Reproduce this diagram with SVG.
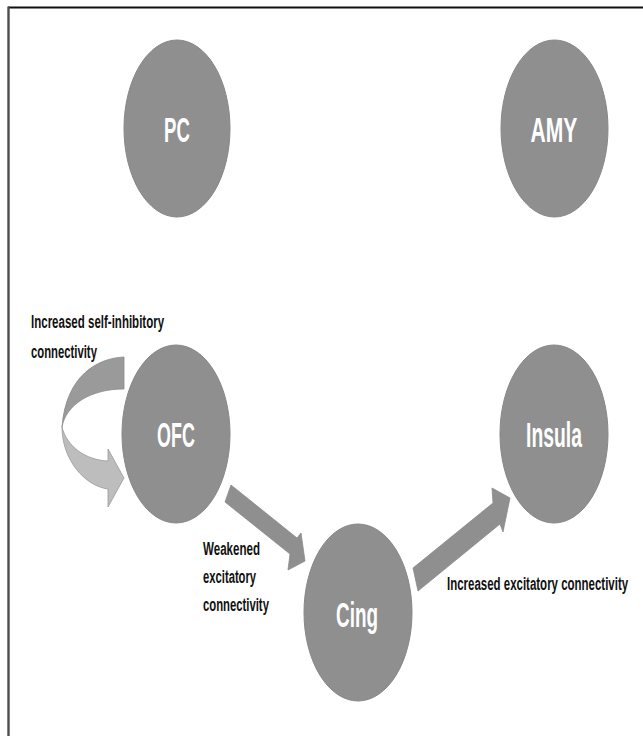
<svg xmlns="http://www.w3.org/2000/svg" width="643" height="736" viewBox="0 0 643 736">
<style>
.node ellipse{fill:#8f8f8f;stroke:#878787;stroke-width:1}
.node text{font-family:"Liberation Sans",Arial,sans-serif;font-weight:bold;font-size:36px;fill:#ffffff;text-anchor:middle}
.lbl{font-family:"Liberation Sans",Arial,sans-serif;font-weight:bold;font-size:18px;fill:#111111}
.arrow{fill:#8f8f8f;stroke:#8a8a8a;stroke-width:0.8}
</style>
<rect width="643" height="736" fill="#ffffff"/>
<g id="frame">
<line x1="8" y1="7.5" x2="643" y2="7.5" stroke="#111" stroke-width="1.8"/>
<line x1="8.5" y1="6.6" x2="8.5" y2="736" stroke="#4d4d4d" stroke-width="2.4"/>
</g>
<g id="connectors">
<g id="self-loop">
<path d="M124,357 C98,358 66,375 62,427 C66,405 90,389 124,389 Z" fill="#9a9a9a" stroke="#8c8c8c" stroke-width="0.8"/>
<path d="M62,427 C62,460 85,486 108,489 L108,507 L124,478 L108,449 L108,461 C86,460 67,447 62,427 Z" fill="#bdbdbd" stroke="#9a9a9a" stroke-width="0.8"/>
</g>
<polygon id="ofc-cing" class="arrow" points="231,485 297,538 301,533 305,561 288,570 290,554 225,502"/>
<polygon id="cing-insula" class="arrow" points="413,568 493,503 492,488 510,498 503,532 500,524 418,591"/>
</g>
<g id="PC" class="node"><ellipse cx="177" cy="128.5" rx="53" ry="88.5"/><text transform="translate(177,142) scale(0.6,1)" textLength="43" lengthAdjust="spacingAndGlyphs">PC</text></g>
<g id="AMY" class="node"><ellipse cx="554.5" cy="128.5" rx="53.5" ry="88.5"/><text transform="translate(554,142) scale(0.6,1)" textLength="78" lengthAdjust="spacingAndGlyphs">AMY</text></g>
<g id="OFC" class="node"><ellipse cx="176" cy="434" rx="54" ry="89"/><text transform="translate(176,447) scale(0.6,1)" textLength="63" lengthAdjust="spacingAndGlyphs">OFC</text></g>
<g id="Insula" class="node"><ellipse cx="554" cy="434" rx="54" ry="89"/><text transform="translate(554,447) scale(0.6,1)" textLength="93" lengthAdjust="spacingAndGlyphs">Insula</text></g>
<g id="Cing" class="node"><ellipse cx="358" cy="612.5" rx="54" ry="88.5"/><text transform="translate(357,627) scale(0.6,1)" textLength="70" lengthAdjust="spacingAndGlyphs">Cing</text></g>
<g id="labels">
<text class="lbl" transform="translate(31,328) scale(0.64,1)" textLength="208" lengthAdjust="spacingAndGlyphs">Increased self-inhibitory</text>
<text class="lbl" transform="translate(31,358) scale(0.64,1)" textLength="103" lengthAdjust="spacingAndGlyphs">connectivity</text>
<text class="lbl" transform="translate(203,555) scale(0.64,1)" textLength="89" lengthAdjust="spacingAndGlyphs">Weakened</text>
<text class="lbl" transform="translate(203,583) scale(0.64,1)" textLength="83" lengthAdjust="spacingAndGlyphs">excitatory</text>
<text class="lbl" transform="translate(203,611) scale(0.64,1)" textLength="103" lengthAdjust="spacingAndGlyphs">connectivity</text>
<text class="lbl" transform="translate(447,590) scale(0.64,1)" textLength="283" lengthAdjust="spacingAndGlyphs">Increased excitatory connectivity</text>
</g>
</svg>
